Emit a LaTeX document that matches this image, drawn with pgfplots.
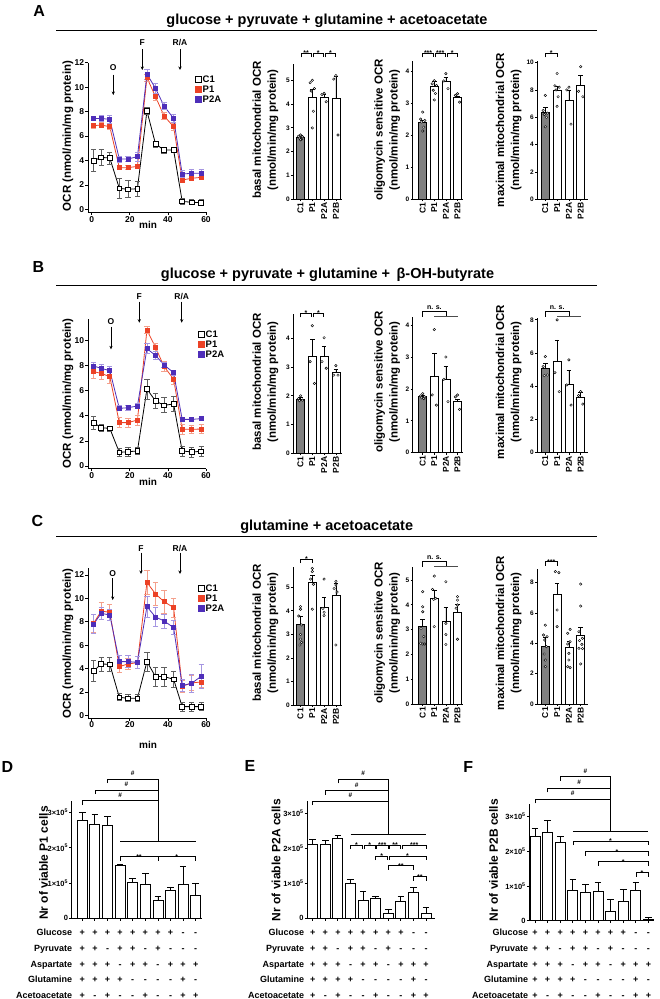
\documentclass[border=0pt]{standalone}
\usepackage{fontspec}
\setmainfont{Liberation Sans}
\usepackage{pgfplots}
\pgfplotsset{compat=1.18}
\usetikzlibrary{arrows.meta}
\newcommand\fs[1]{\bfseries\fontsize{#1}{#1}\selectfont}
\definecolor{redP}{RGB}{236,66,38}
\definecolor{redPe}{RGB}{244,160,140}
\definecolor{bluP}{RGB}{78,46,185}
\definecolor{bluPe}{RGB}{165,150,225}
\definecolor{grayC}{RGB}{128,128,128}
\definecolor{grayCe}{RGB}{95,95,95}
\pgfplotsset{
 common/.style={scale only axis, anchor=south west, axis lines*=left, axis line style={line width=0.8pt},
   tick style={line width=0.8pt, black}, tick align=outside, major tick length=2.5pt, clip=false,
   /pgf/number format/assume math mode=true},
 lc/.style={common, width=118.1pt, xmin=-2, xmax=60, xtick={0,20,40,60},
   tick label style={font=\fs{8.5}, inner sep=1pt},
   legend style={draw=none, fill=none, anchor=north west, font=\fs{9.5}, inner sep=0pt, row sep=1.4pt,
     nodes={inner sep=0.8pt, text height=7pt, text depth=0pt}}, legend cell align=left},
 c1/.style={forget plot, black, line width=0.8pt, mark=square*, mark size=2.4pt,
   mark options={solid, fill=white, draw=black, line width=0.7pt},
   error bars/y dir=both, error bars/y explicit,
   error bars/error bar style={grayCe, line width=0.8pt},
   error bars/error mark options={rotate=90, grayCe, line width=0.8pt, mark size=2.6pt}},
 p1/.style={forget plot, redP, line width=0.8pt, mark=square*, mark size=2pt,
   mark options={solid, fill=redP, draw=redP},
   error bars/y dir=both, error bars/y explicit,
   error bars/error bar style={redPe, line width=0.8pt},
   error bars/error mark options={rotate=90, redPe, line width=0.8pt, mark size=2.6pt}},
 p2/.style={forget plot, bluP, line width=0.8pt, mark=square*, mark size=2pt,
   mark options={solid, fill=bluP, draw=bluP},
   error bars/y dir=both, error bars/y explicit,
   error bars/error bar style={bluPe, line width=0.8pt},
   error bars/error mark options={rotate=90, bluPe, line width=0.8pt, mark size=2.6pt}},
 bc/.style={common, ymin=0, xtick={0,1,2,3}, xticklabels={C1,P1,P2A,P2B},
   xticklabel style={rotate=90, anchor=east, font=\fs{8.5}, inner sep=1pt},
   yticklabel style={font=\fs{6.5}, inner sep=1pt}, major tick length=2pt},
 basal/.style={bc, width=49pt, xmin=-0.636, xmax=3.517},
 oligo/.style={bc, width=50.8pt, xmin=-0.879, xmax=3.5},
 maxi/.style={bc, width=51.3pt, xmin=-0.703, xmax=3.644},
 gb/.style={ybar, bar width=8pt, bar shift=0pt, fill=grayC, draw=black, line width=0.8pt,
   error bars/y dir=plus, error bars/y explicit,
   error bars/error bar style={black, line width=0.8pt},
   error bars/error mark options={rotate=90, black, line width=0.8pt, mark size=2.3pt}},
 wb/.style={gb, fill=white},
 dt/.style={only marks, mark=*, mark size=1.25pt, mark options={fill=white, draw=black, line width=0.45pt}},
 dc/.style={common, ymin=0, ytick={0,1,2,3},
   yticklabels={0,{1×10\textsuperscript{5}},{2×10\textsuperscript{5}},{3×10\textsuperscript{5}}},
   xtick={1,...,10}, xticklabels={}, yticklabel style={font=\fs{7.5}, inner sep=1pt}},
 db/.style={ybar, bar width=10pt, bar shift=0pt, fill=white, draw=black, line width=0.8pt,
   error bars/y dir=plus, error bars/y explicit,
   error bars/error bar style={black, line width=0.8pt},
   error bars/error mark options={rotate=90, black, line width=0.8pt, mark size=3.3pt}},
}
\newcommand\legC{%
 \addlegendimage{legend image code/.code={\draw[black, fill=white, line width=0.7pt] (0pt,-3pt) rectangle (6pt,3pt);}}
 \addlegendentry{C1}
 \addlegendimage{legend image code/.code={\draw[redP, fill=redP] (0pt,-3pt) rectangle (6pt,3pt);}}
 \addlegendentry{P1}
 \addlegendimage{legend image code/.code={\draw[bluP, fill=bluP] (0pt,-3pt) rectangle (6pt,3pt);}}
 \addlegendentry{P2A}}
\newcommand\sbrk[4]{%
 \draw[line width=0.6pt] (#1,#3+4) -- (#1,#3) -- (#2,#3) -- (#2,#3+4);
 \node[font=\fs{7}, anchor=base, inner sep=0pt] at ({(#1+#2)/2},#3+2.3) {#4};}
\newcommand\nsbrk[5]{%
 \draw[line width=0.6pt] (#1,#5+5) -- (#1,#5) -- (#2,#5) -- (#2,#5+5);
 \draw[line width=0.6pt, black!70] (#3,#5+5) -- (#4,#5+5);
 \node[font=\fs{7}, anchor=base, inner sep=0pt] at ({(#1+#2)/2},#5-2.6) {n. s.};}
\newcommand\hsh[2]{\node[font=\fs{6.5}, anchor=base, inner sep=0pt] at (#1,#2) {\#};}
\newcommand\signs[4]{\foreach \s [count=\i from 0] in {#4} {\node[font=\fs{9}, anchor=base, inner sep=0pt] at ({#1+\i*#2},#3) {\s};}}
\newcommand\rowsDEF[3]{%
 \node[anchor=base east, font=\fs{9}, inner sep=0pt] at (#1,935.8) {Glucose};
 \node[anchor=base east, font=\fs{9}, inner sep=0pt] at (#1,951.4) {Pyruvate};
 \node[anchor=base east, font=\fs{9}, inner sep=0pt] at (#1,967.0) {Aspartate};
 \node[anchor=base east, font=\fs{9}, inner sep=0pt] at (#1,982.6) {Glutamine};
 \node[anchor=base east, font=\fs{9}, inner sep=0pt] at (#1,998.0) {Acetoacetate};
 \signs{#2}{#3}{935.8}{+,+,+,+,+,+,+,+,-,-}
 \signs{#2}{#3}{951.4}{+,+,-,+,+,-,+,-,-,-}
 \signs{#2}{#3}{967.0}{+,+,+,-,+,+,-,+,+,+}
 \signs{#2}{#3}{982.6}{+,+,+,+,-,-,-,-,+,-}
 \signs{#2}{#3}{998.0}{+,-,+,-,-,+,-,-,+,+}}
\begin{document}
\begin{tikzpicture}
\useasboundingbox (0,0) rectangle (660pt,-999pt);
% ================= A =================
\begin{axis}[lc, at={(87.9pt,-212.4pt)}, height=149.7pt, ymin=-0.25, ymax=12, ytick={0,2,...,12},
  legend style={at={(axis description cs:0.907,0.918)}}]
\addplot[c1] coordinates {(1,3.98) +- (0,0.9) (5,4.25) +- (0,0.65) (9.5,4.2) +- (0,0.5) (14.5,1.72) +- (0,0.8) (19,1.64) +- (0,0.7) (24,1.69) +- (0,0.6) (29,8.05) +- (0,0.3) (33.5,5.35) +- (0,0.25) (38,4.85) +- (0,0.25) (43,4.85) +- (0,0.2) (47.5,0.65) +- (0,0.25) (52.5,0.58) +- (0,0.2) (57.5,0.55) +- (0,0.25)};
\addplot[p1] coordinates {(1,6.85) +- (0,0.2) (5,6.9) +- (0,0.2) (9.5,6.76) +- (0,0.2) (14.5,3.41) +- (0,0.15) (19,3.41) +- (0,0.15) (24,3.52) +- (0,0.15) (29,10.77) +- (0,0.3) (33.5,9.22) +- (0,0.3) (38,7.64) +- (0,0.3) (43,6.76) +- (0,0.3) (47.5,2.4) +- (0,0.1) (52.5,2.54) +- (0,0.1) (57.5,2.62) +- (0,0.1)};
\addplot[p2] coordinates {(1,7.44) +- (0,0.2) (5,7.44) +- (0,0.25) (9.5,7.36) +- (0,0.3) (14.5,4.12) +- (0,0.25) (19,4.12) +- (0,0.2) (24,4.31) +- (0,0.35) (29,11.07) +- (0,0.4) (33.5,9.9) +- (0,0.4) (38,8.45) +- (0,0.3) (43,7.44) +- (0,0.3) (47.5,2.89) +- (0,0.3) (52.5,2.95) +- (0,0.3) (57.5,2.95) +- (0,0.3)};
\legC
\end{axis}
\begin{axis}[basal, at={(293pt,-199.3pt)}, height=135.7pt, ymax=5.7, ytick={0,...,5}]
\addplot[gb] coordinates {(0,2.59) +- (0,0.1)};
\addplot[wb] coordinates {(1,4.27) +- (0,0.35) (2,4.3) +- (0,0.1) (3,4.25) +- (0,0.9)};
\addplot[dt] coordinates {(0,2.7) (-0.18,2.65) (0.18,2.62) (-0.09,2.57) (0.09,2.52) (0,2.5) (1,5.0) (0.82,4.9) (1.18,4.65) (0.91,4.55) (1.09,3.7) (1,3.0) (2,4.45) (1.82,4.4) (2.18,4.1) (3,5.2) (2.82,5.05) (3.18,2.7)};
\end{axis}
\begin{axis}[oligo, at={(412.5pt,-199.3pt)}, height=137.9pt, ymax=4.3, ytick={0,...,4}]
\addplot[gb] coordinates {(0,2.39) +- (0,0.06)};
\addplot[wb] coordinates {(1,3.53) +- (0,0.15) (2,3.68) +- (0,0.12) (3,3.17) +- (0,0.05)};
\addplot[dt] coordinates {(0,2.72) (-0.18,2.5) (0.18,2.46) (-0.09,2.41) (0.09,2.25) (0,2.13) (1,3.7) (0.82,3.6) (1.18,3.55) (0.91,3.4) (1.09,3.3) (1,3.1) (2,3.92) (1.82,3.69) (2.18,3.45) (3,3.29) (2.82,3.24) (3.18,3.03)};
\end{axis}
\begin{axis}[maxi, at={(537pt,-199.3pt)}, height=138.1pt, ymax=10.1, ytick={0,2,...,10}]
\addplot[gb] coordinates {(0,6.39) +- (0,0.3)};
\addplot[wb] coordinates {(1,7.98) +- (0,0.3) (2,7.2) +- (0,0.8) (3,8.34) +- (0,0.75)};
\addplot[dt] coordinates {(0,7.6) (-0.18,6.5) (0.18,6.3) (-0.09,6.2) (0.09,6.0) (0,5.3) (1,9.2) (0.82,8.3) (1.18,8.2) (0.91,8.0) (1.09,7.5) (1,6.8) (2,8.2) (1.82,8.0) (2.18,5.5) (3,9.7) (2.82,7.9) (3.18,7.5)};
\end{axis}
% ================= B =================
\begin{axis}[lc, at={(87.9pt,-468.5pt)}, height=149.1pt, ymin=-0.2, ymax=11.7, ytick={0,2,...,10},
  legend style={at={(axis description cs:0.932,0.929)}}]
\addplot[c1] coordinates {(1,3.46) +- (0,0.5) (5,3.06) +- (0,0.3) (9.5,3.0) +- (0,0.2) (14.5,1.09) +- (0,0.3) (19,1.14) +- (0,0.35) (24,1.2) +- (0,0.3) (29,6.14) +- (0,0.8) (33.5,5.19) +- (0,0.6) (38,4.84) +- (0,0.6) (43,4.95) +- (0,0.6) (47.5,1.2) +- (0,0.4) (52.5,1.12) +- (0,0.4) (57.5,1.17) +- (0,0.4)};
\addplot[p1] coordinates {(1,7.53) +- (0,0.5) (5,7.39) +- (0,0.5) (9.5,7.13) +- (0,0.5) (14.5,3.46) +- (0,0.4) (19,3.46) +- (0,0.35) (24,3.67) +- (0,0.4) (29,10.85) +- (0,0.3) (33.5,9.47) +- (0,0.3) (38,7.93) +- (0,0.4) (43,6.94) +- (0,0.4) (47.5,2.93) +- (0,0.4) (52.5,2.93) +- (0,0.35) (57.5,2.95) +- (0,0.35)};
\addplot[p2] coordinates {(1,7.98) +- (0,0.3) (5,7.79) +- (0,0.3) (9.5,7.61) +- (0,0.3) (14.5,4.6) +- (0,0.2) (19,4.65) +- (0,0.2) (24,4.79) +- (0,0.2) (29,9.36) +- (0,0.4) (33.5,8.83) +- (0,0.3) (38,8.06) +- (0,0.2) (43,7.45) +- (0,0.2) (47.5,3.72) +- (0,0.15) (52.5,3.72) +- (0,0.15) (57.5,3.78) +- (0,0.15)};
\legC
\end{axis}
\begin{axis}[basal, at={(293pt,-453.3pt)}, height=139.4pt, ymax=4.85, ytick={0,...,4}]
\addplot[gb] coordinates {(0,1.89) +- (0,0.05)};
\addplot[wb] coordinates {(1,3.36) +- (0,0.6) (2,3.36) +- (0,0.35) (3,2.82) +- (0,0.1)};
\addplot[dt] coordinates {(0,2.0) (-0.18,1.9) (0.18,1.85) (-0.09,1.83) (1,4.44) (0.82,3.19) (1.18,2.43) (2,4.02) (1.82,3.19) (2.18,2.96) (3,3.05) (2.82,2.72) (3.18,2.72)};
\end{axis}
\begin{axis}[oligo, at={(412.5pt,-452.7pt)}, height=135.9pt, ymax=4.26, ytick={0,...,4}]
\addplot[gb] coordinates {(0,1.75) +- (0,0.05)};
\addplot[wb] coordinates {(1,2.38) +- (0,0.73) (2,2.3) +- (0,0.42) (3,1.62) +- (0,0.06)};
\addplot[dt] coordinates {(0,1.85) (-0.18,1.78) (0.18,1.75) (-0.09,1.72) (0.09,1.7) (1,3.86) (0.82,1.81) (1.18,1.49) (2,3.0) (1.82,2.3) (2.18,1.6) (3,1.81) (2.82,1.75) (3.18,1.36)};
\end{axis}
\begin{axis}[maxi, at={(537pt,-452.7pt)}, height=134.5pt, ymax=8.1, ytick={0,2,...,8}]
\addplot[gb] coordinates {(0,5.09) +- (0,0.26)};
\addplot[wb] coordinates {(1,5.49) +- (0,1.3) (2,4.14) +- (0,0.8) (3,3.34) +- (0,0.28)};
\addplot[dt] coordinates {(0,5.79) (-0.18,5.19) (0.18,4.68) (-0.09,4.64) (1,8.0) (0.82,4.82) (1.18,3.68) (2,5.59) (1.82,4.08) (2.18,2.87) (3,3.68) (2.82,3.44) (3.18,2.93)};
\end{axis}
% ================= C =================
\begin{axis}[lc, at={(87.9pt,-718.2pt)}, height=150.2pt, ymin=-0.25, ymax=12.6, ytick={0,2,...,12},
  legend style={at={(axis description cs:0.932,0.894)}}]
\addplot[c1] coordinates {(1,3.79) +- (0,0.9) (5,4.39) +- (0,0.6) (9.5,4.36) +- (0,0.6) (14.5,1.54) +- (0,0.3) (19,1.45) +- (0,0.3) (24,1.45) +- (0,0.3) (29,4.59) +- (0,0.8) (33.5,3.31) +- (0,0.8) (38,3.31) +- (0,0.8) (43,3.08) +- (0,0.7) (47.5,0.74) +- (0,0.4) (52.5,0.74) +- (0,0.4) (57.5,0.74) +- (0,0.35)};
\addplot[p1] coordinates {(1,7.87) +- (0,0.8) (5,8.92) +- (0,0.7) (9.5,8.81) +- (0,0.7) (14.5,4.16) +- (0,0.5) (19,4.39) +- (0,0.5) (24,4.5) +- (0,0.5) (29,11.37) +- (0,1.0) (33.5,10.38) +- (0,1.0) (38,9.72) +- (0,1.0) (43,9.21) +- (0,0.8) (47.5,2.48) +- (0,0.5) (52.5,2.77) +- (0,0.6) (57.5,2.85) +- (0,0.5)};
\addplot[p2] coordinates {(1,7.81) +- (0,0.8) (5,8.72) +- (0,0.5) (9.5,8.58) +- (0,0.5) (14.5,4.59) +- (0,0.5) (19,4.59) +- (0,0.5) (24,4.53) +- (0,0.5) (29,9.29) +- (0,0.9) (33.5,8.41) +- (0,0.8) (38,8.07) +- (0,0.6) (43,7.5) +- (0,0.6) (47.5,2.54) +- (0,0.5) (52.5,2.74) +- (0,0.8) (57.5,3.34) +- (0,1.0)};
\legC
\end{axis}
\begin{axis}[basal, at={(293pt,-705pt)}, height=137.7pt, ymax=5.85, ytick={0,...,5}]
\addplot[gb] coordinates {(0,3.43) +- (0,0.32)};
\addplot[wb] coordinates {(1,5.21) +- (0,0.31) (2,4.15) +- (0,0.43) (3,4.65) +- (0,0.52)};
\addplot[dt] coordinates {(0,4.18) (0,4.07) (-0.15,3.78) (0.1,3.4) (0,3.0) (0,2.8) (0.1,2.66) (-0.05,2.55) (1,5.8) (1,5.67) (0.85,5.35) (1.1,5.13) (1,4.07) (2,5.35) (1.9,4.1) (2,3.94) (2,3.8) (3,5.25) (3,5.1) (2.85,4.95) (3.1,4.8) (3,2.55)};
\end{axis}
\begin{axis}[oligo, at={(412.5pt,-704pt)}, height=137.4pt, ymax=5.54, ytick={0,...,5}]
\addplot[gb] coordinates {(0,3.12) +- (0,0.29)};
\addplot[wb] coordinates {(1,4.26) +- (0,0.34) (2,3.32) +- (0,0.56) (3,3.68) +- (0,0.34)};
\addplot[dt] coordinates {(0,4.53) (0,3.92) (0,3.72) (-0.15,3.05) (0.1,2.72) (-0.18,2.45) (0.18,2.42) (0,2.42) (1,5.16) (0.85,4.62) (1.12,4.26) (0.95,4.22) (1,3.12) (2,4.93) (2,3.25) (2,2.8) (2,2.4) (3,4.33) (3,4.19) (3,3.99) (2.88,3.86) (3,2.61)};
\end{axis}
\begin{axis}[maxi, at={(537pt,-704pt)}, height=135pt, ymax=8.9, ytick={0,2,...,8}]
\addplot[gb] coordinates {(0,3.82) +- (0,0.58)};
\addplot[wb] coordinates {(1,7.23) +- (0,0.73) (2,3.71) +- (0,0.39) (3,4.51) +- (0,0.52)};
\addplot[dt] coordinates {(0,5.2) (-0.15,4.55) (0.15,4.44) (-0.05,4.22) (0.1,3.78) (-0.1,3.3) (0,2.9) (0,2.46) (0.85,8.73) (1.15,8.66) (1,6.2) (1,5.1) (2.1,4.92) (1.9,4.66) (2.1,4.11) (1.9,3.96) (2,3.34) (2,2.9) (1.9,2.46) (2.1,2.4) (3,7.91) (3,6.46) (2.85,4.77) (3.15,4.33) (2.9,4.18) (3.1,3.93) (2.85,3.67) (3.15,3.65) (3,2.64)};
\end{axis}
% ================= D E F =================
\begin{axis}[dc, at={(71.7pt,-918.3pt)}, width=130pt, height=117.5pt, xmin=0.159, xmax=10.476, ymax=3.33]
\addplot[db] coordinates {(1,2.77) +- (0,0.24) (2,2.65) +- (0,0.3) (3,2.64) +- (0,0.25) (4,1.51) +- (0,0.03) (5,1.03) +- (0,0.11) (6,0.95) +- (0,0.31) (7,0.51) +- (0,0.12) (8,0.79) +- (0,0.1) (9,0.95) +- (0,0.51) (10,0.64) +- (0,0.34)};
\end{axis}
\begin{axis}[dc, at={(307.3pt,-918.3pt)}, width=127.7pt, height=117.3pt, xmin=0.571, xmax=10.71, ymax=3.35]
\addplot[db] coordinates {(1,2.1) +- (0,0.16) (2,2.1) +- (0,0.12) (3,2.27) +- (0,0.1) (4,1.0) +- (0,0.12) (5,0.52) +- (0,0.26) (6,0.57) +- (0,0.05) (7,0.14) +- (0,0.11) (8,0.48) +- (0,0.15) (9,0.73) +- (0,0.15) (10,0.14) +- (0,0.17)};
\end{axis}
\begin{axis}[dc, at={(529.3pt,-920.7pt)}, width=123.7pt, height=116.9pt, xmin=0.548, xmax=10.365, ymax=3.36]
\addplot[db] coordinates {(1,2.41) +- (0,0.24) (2,2.53) +- (0,0.34) (3,2.24) +- (0,0.18) (4,0.88) +- (0,0.31) (5,0.8) +- (0,0.25) (6,0.83) +- (0,0.27) (7,0.26) +- (0,0.35) (8,0.56) +- (0,0.34) (9,0.88) +- (0,0.23) (10,0.04) +- (0,0.05)};
\end{axis}
% ================= annotations (pixel coordinates) =================
\begin{scope}[x=1pt, y=-1pt]
% panel letters
\node[font=\fs{16}] at (39.2,10.8) {A};
\node[font=\fs{16}] at (38.3,267.3) {B};
\node[font=\fs{16}] at (37.3,520.7) {C};
\node[font=\fs{16}] at (7.5,767.3) {D};
\node[font=\fs{16}] at (250,766) {E};
\node[font=\fs{16}] at (468.3,767.3) {F};
% titles
\node[font=\fs{14.5}] at (327,20.8) {glucose + pyruvate + glutamine + acetoacetate};
\draw[line width=0.9pt] (56,30) -- (597,30);
\node[font=\fs{14.5}] at (327.5,275) {glucose + pyruvate + glutamine +\, β-OH-butyrate};
\draw[line width=0.9pt] (56,285.7) -- (597,285.7);
\node[font=\fs{14.5}] at (326.7,526.3) {glutamine + acetoacetate};
\draw[line width=0.9pt] (56,536) -- (597,536);
% line chart labels
\foreach \yc/\ym/\yl in {136/225/0, 393.3/482.3/0, 643.3/745/0} {
  \node[rotate=90, font=\fs{11.5}] at (68,\yc) {OCR (nmol/min/mg protein)};
  \node[font=\fs{10}] at (148,\ym) {min};
}
% arrows
\tikzset{arr/.style={-{Stealth[length=3.5pt,width=3.2pt]}, line width=0.7pt}}
\node[font=\fs{8.5}] at (113.3,68) {O}; \draw[arr] (113.3,74.5) -- (113.3,95);
\node[font=\fs{8.5}] at (142.3,43) {F}; \draw[arr] (142.3,49.3) -- (142.3,70);
\node[font=\fs{8.5}] at (180,43) {R/A}; \draw[arr] (180,49.3) -- (180,70);
\node[font=\fs{8.5}] at (111,321.7) {O}; \draw[arr] (111,326.7) -- (111,349.3);
\node[font=\fs{8.5}] at (139.3,296.7) {F}; \draw[arr] (139.3,301.7) -- (139.3,322.7);
\node[font=\fs{8.5}] at (181.7,296.7) {R/A}; \draw[arr] (181.7,301.7) -- (181.7,322.7);
\node[font=\fs{8.5}] at (112.7,573.3) {O}; \draw[arr] (112.7,578.3) -- (112.7,600);
\node[font=\fs{8.5}] at (141,548.3) {F}; \draw[arr] (141,552.7) -- (141,574);
\node[font=\fs{8.5}] at (180,548.3) {R/A}; \draw[arr] (180,552.7) -- (180,574);
% bar chart y labels
\foreach \yc in {130, 382, 633} {
  \node[rotate=90, font=\fs{11.5}, align=center] at (265.5,\yc) {basal mitochondrial OCR\\[3.5pt](nmol/min/mg protein)};
  \node[rotate=90, font=\fs{11.5}, align=center] at (387.2,\yc) {oligomycin sensitive OCR\\[3.5pt](nmol/min/mg protein)};
  \node[rotate=90, font=\fs{11.5}, align=center] at (508.7,\yc) {maximal mitochondrial OCR\\[3.5pt](nmol/min/mg protein)};
}
% significance A
\sbrk{301}{311.3}{53.3}{**} \sbrk{313.3}{323.3}{53.3}{*} \sbrk{325.3}{335.5}{53.3}{*}
\sbrk{422.7}{433.5}{53.3}{***} \sbrk{435.3}{445.3}{53.3}{***} \sbrk{447}{457.5}{53.3}{*}
\sbrk{545.3}{557.1}{53.3}{*}
% significance B
\sbrk{300.5}{311.3}{313.3}{*} \sbrk{313.3}{323.5}{313.3}{*}
\nsbrk{422.7}{446}{434.3}{457.5}{311.7}
\nsbrk{545.3}{569}{557.1}{580.7}{311.7}
% significance C
\sbrk{300.5}{312.3}{559}{*}
\nsbrk{422.7}{446}{434.3}{457.5}{561.7}
\sbrk{545.3}{557.1}{561.7}{***}
% D
\draw[line width=0.6pt] (82.3,805) -- (82.3,800.7) -- (157.9,800.7);
\draw[line width=0.6pt] (94.9,794) -- (94.9,790) -- (157.9,790);
\draw[line width=0.6pt] (107.5,783) -- (107.5,779) -- (157.9,779) -- (157.9,841.7);
\draw[line width=0.6pt] (120.1,841.7) -- (195.7,841.7);
\hsh{120.1}{797.3} \hsh{126.4}{786.6} \hsh{132.7}{775.6}
\sbrk{120.1}{157.9}{856.7}{**} \sbrk{157.9}{195.7}{856.7}{*}
% E
\draw[line width=0.6pt] (312.7,805) -- (312.7,801) -- (388.3,801);
\draw[line width=0.6pt] (325.3,794.7) -- (325.3,790.7) -- (388.3,790.7);
\draw[line width=0.6pt] (337.9,783.3) -- (337.9,779.3) -- (388.3,779.3) -- (388.3,834.3);
\draw[line width=0.6pt] (350.5,834.3) -- (426.1,834.3);
\hsh{350.5}{797.6} \hsh{356.8}{787.3} \hsh{363.1}{775.9}
\sbrk{350.5}{362.5}{845}{*} \sbrk{364.3}{375.2}{845}{*} \sbrk{376.5}{387.8}{845}{***} \sbrk{389.5}{400.5}{845}{**} \sbrk{402.5}{426.1}{845}{***}
\sbrk{375.7}{387.7}{856}{*} \sbrk{389}{426.1}{856}{*}
\sbrk{388.3}{413.5}{865.7}{**}
\sbrk{413.5}{426.1}{876.7}{**}
% F
\draw[line width=0.6pt] (535,803.3) -- (535,799.3) -- (610.6,799.3);
\draw[line width=0.6pt] (547.6,792.3) -- (547.6,788.3) -- (610.6,788.3);
\draw[line width=0.6pt] (560.2,780.7) -- (560.2,776.7) -- (610.6,776.7) -- (610.6,831.7);
\draw[line width=0.6pt] (572.8,831.7) -- (648.4,831.7);
\hsh{572.8}{795.9} \hsh{579.1}{784.9} \hsh{585.4}{773.3}
\sbrk{572.8}{648.4}{841}{*} \sbrk{585.4}{648.4}{851.7}{*} \sbrk{598}{648.4}{861.7}{*} \sbrk{635.8}{648.4}{872.7}{*}
% DEF y labels
\node[rotate=90, font=\fs{12}] at (43.5,863) {Nr of viable P1 cells};
\node[rotate=90, font=\fs{12}] at (276,860) {Nr of viable P2A cells};
\node[rotate=90, font=\fs{12}] at (493.5,860) {Nr of viable P2B cells};
% DEF rows
\rowsDEF{72.3}{82.3}{12.6}
\rowsDEF{304.3}{312.7}{12.6}
\rowsDEF{528.3}{535}{12.6}
\end{scope}
\end{tikzpicture}
\end{document}
